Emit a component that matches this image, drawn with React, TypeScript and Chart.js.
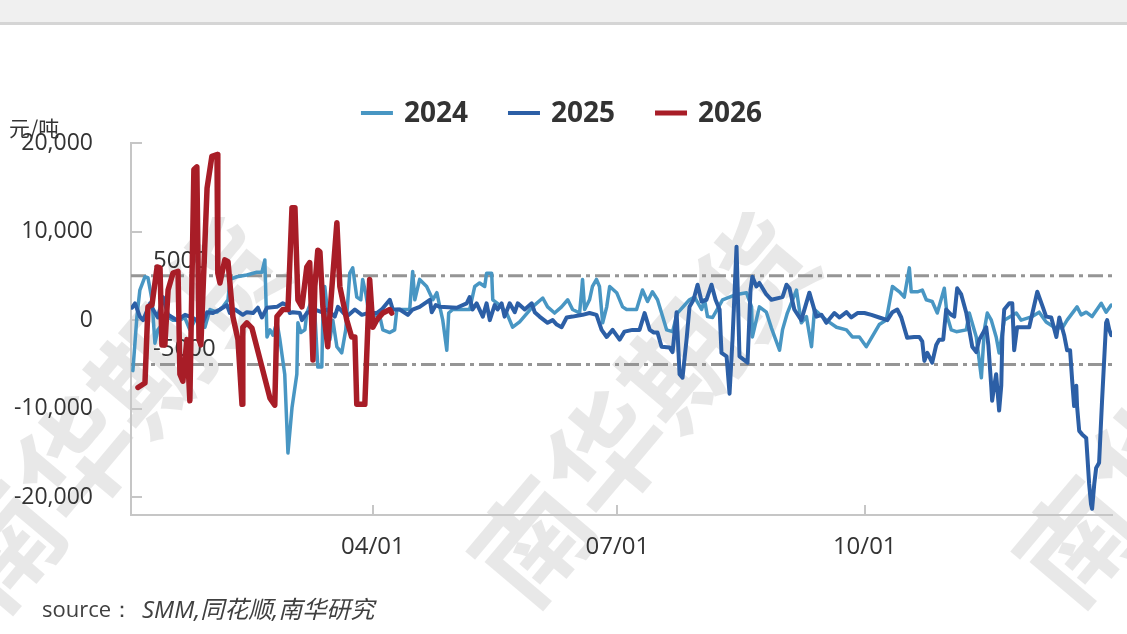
import React, { useEffect, useRef } from "react";
import { Chart, registerables } from "chart.js";

Chart.register(...registerables);

// ---- data (x = day of year, y = 元/吨) ----
const days2024 = [0.7, 2.2, 3.3, 5.2, 6.3, 7.8, 8.9, 10, 11.5, 13.4, 15.6, 18.2, 20, 21.9, 23.8, 25.7, 27.5, 29.4, 32, 34.2, 36.1, 36.8, 39.4, 43.1, 46.8, 48.7, 49.8, 50.6, 51.7, 52.8, 54.3, 55.4, 57.2, 58.4, 59.9, 61.7, 62.1, 63.2, 64.7, 65.4, 67.3, 68.4, 69.5, 71, 71.4, 72.1, 73.2, 74, 75.1, 76.6, 78.4, 79.9, 81.4, 82.5, 84, 85.5, 86.2, 87.4, 88.8, 90.7, 92.6, 93.7, 96.3, 98.1, 98.9, 103.7, 104.8, 105.6, 107.4, 110, 112.3, 113.8, 114.9, 116, 117.5, 118.2, 119.7, 126, 127.9, 129.7, 131.6, 132.3, 134.2, 134.6, 137.2, 139.8, 142, 144.6, 149.4, 153.2, 155, 157.6, 160.2, 162.5, 164.3, 166.9, 167.7, 168, 168.8, 170.6, 171.7, 173.2, 174.3, 175.5, 177, 178.1, 180.7, 182.9, 184.4, 188.1, 190.3, 192.2, 194, 195.9, 197.8, 199.3, 201.5, 203.3, 207.8, 209.7, 212.3, 213.4, 214.5, 216.4, 220.1, 225.3, 229, 230.9, 231.2, 233.8, 236.4, 238.3, 241.3, 242.4, 244.2, 247.6, 249.4, 251.3, 253.2, 254.3, 258.7, 262.5, 266.2, 268.4, 271, 273.6, 278.4, 281, 283.3, 285.9, 287.7, 289.6, 290.3, 292.6, 294.4, 295.9, 298.1, 300, 302.6, 303.7, 305.2, 307.1, 310.8, 311.9, 314.5, 316.4, 317.5, 318.6, 320.1, 321.9, 323, 324.9, 329.4, 331.2, 335.3, 337.9, 340.5, 343.5, 346.5, 348.3, 352, 353.5, 355.4, 357.6, 361, 362.8, 364.7];
const vals2024 = [-5700, 400, 3400, 4900, 4800, 2300, -2600, -1100, -500, 400, 0, 0, 300, -1100, 0, -200, -800, 1200, 900, 1500, 2300, 4600, 4900, 5100, 5400, 5400, 6800, -1900, -1100, -1700, -200, -2200, -6100, -15000, -9900, -6100, -300, -1400, -1100, 800, 2300, 800, -5300, -5300, 800, 3800, 800, -2200, 0, -3000, -3700, -1100, 5300, 5900, 2600, 2300, 4600, 2900, 300, 600, 400, -1100, -1400, -1100, 1200, 1200, 5500, 2300, 4600, 3800, 2300, 3100, 1500, 0, -3400, 800, 1200, 1200, 3800, 4200, 3800, 5300, 5300, 2300, 1700, 800, -800, -200, 1500, 2500, 1500, 800, 1500, 2300, 1200, 800, 3400, 4600, 1200, 2300, 3800, 4600, 3800, -300, 1500, 3800, 3100, 1500, 1200, 1200, 3400, 2100, 3200, 2300, 400, -1100, -1300, 800, 2300, 2600, 1200, 2300, 400, 300, 2300, 2900, 3100, 1500, -1900, 1500, 900, -900, -3400, -1100, 800, 3400, -300, 400, -3000, 1200, 0, -800, -1100, -1900, -1900, -3000, -500, 0, 3800, 3200, 2600, 5900, 3200, 3200, 3400, 2300, 2100, 800, 3600, 400, -1100, -1300, -1100, 800, -1900, -6500, -1100, 800, 0, -1900, -3700, 0, 800, 0, 400, 900, -200, -800, -900, 0, 1500, 600, 900, 400, 1900, 900, 1700];

const days2025 = [0.4, 1.5, 3.3, 4.5, 7.1, 8.2, 10, 11.9, 13.8, 17.1, 20.1, 22.7, 24.5, 26.8, 28.3, 30.5, 33.1, 35.7, 36.8, 38.7, 41.6, 43.1, 45.4, 47.2, 48.7, 50.6, 54.3, 56.5, 58, 59.1, 60.2, 62.8, 63.6, 65.4, 68.4, 71, 72.9, 75.8, 77, 80.3, 83.3, 85.9, 88.1, 91.4, 93.3, 96.3, 97.4, 100, 103, 104.8, 107.4, 111.2, 111.9, 113.4, 114.9, 121.2, 124.9, 126, 127.1, 128.6, 130.9, 132.3, 133.5, 135.3, 136.4, 137.9, 139, 140.9, 142.8, 143.9, 146.5, 149.1, 150.2, 152, 155, 156.9, 158.4, 160.2, 162.1, 164.3, 168, 170.6, 173.2, 175.1, 177, 179.2, 181.8, 183.6, 186.6, 189.2, 191.1, 193, 194.5, 195.9, 197.4, 200.4, 201.5, 203, 204.1, 205.2, 206.7, 207.8, 209.3, 210.8, 212.3, 214.1, 216, 217.5, 219, 219.7, 221.6, 222.7, 223.8, 225.3, 226.4, 229.4, 230.5, 231.2, 232.7, 233.8, 236.4, 238.3, 242.4, 243.9, 245, 246.8, 249.4, 252.4, 255, 256.9, 258.7, 261.7, 263.6, 266.2, 268, 270.3, 272.9, 275.5, 278.4, 281.4, 283.3, 285.1, 286.6, 288.8, 291.4, 293.3, 294.4, 295.2, 296.3, 298.1, 299.6, 300.7, 302.2, 303.3, 305.2, 306.3, 307.4, 308.9, 310.8, 311.9, 313, 314.5, 315.6, 318.2, 319, 320.1, 320.4, 321.2, 321.9, 323, 323.8, 324.2, 324.9, 326.8, 327.9, 328.6, 329.7, 332.3, 334.2, 337.2, 339, 340.5, 342.4, 344.3, 345.4, 347.2, 348.3, 349.4, 350.2, 350.9, 351.7, 352, 352.8, 353.9, 355.4, 356.5, 357.2, 357.6, 358.4, 359.1, 360.2, 361.3, 362.8, 363.2, 364, 364.7];
const vals2025 = [1400, 1900, 400, 0, 1900, 1200, 300, 2600, 600, 0, 600, 300, 0, -200, 900, 800, 1200, 1700, 800, 1200, 600, 900, 800, 1400, 300, 1400, 1500, 1900, 1700, 800, 900, 800, 0, 800, 1200, 900, 1200, 400, 1500, 400, 1200, 600, 800, 800, 1200, 2300, 1200, 1200, 600, 1200, 1500, 2300, 900, 1700, 1500, 1400, 1900, 2600, 1200, 1900, 400, 1900, 0, 1700, 1200, 1900, 400, 1900, 900, 1900, 1200, 1900, 900, 400, -300, 0, -500, -800, 300, 400, 600, 800, 600, -1100, -1900, -1100, -2200, -1300, -1100, -1100, 800, -1100, -1400, -1400, -3000, -3100, -3600, 900, -6100, -6500, -2200, 1500, 2300, 4000, 2100, 2300, 4000, 2300, 1200, -3700, -4100, -8300, -2200, 8300, -4100, -4800, 3400, 4900, 3800, 4200, 2900, 2300, 2600, 4000, 3600, 1200, 0, 3100, 400, 600, -300, 800, 300, 900, 300, 800, 800, 600, 300, 0, 900, 1200, 300, -2000, -1900, -1900, -2400, -4600, -3700, -4800, -2800, -2200, -2200, 1200, 600, 400, 3600, 2900, 800, -1100, -3000, -3600, -2200, -800, -2800, -7600, -9100, -7400, -6100, -10200, -7400, -1900, 1200, 1900, 1900, -3400, -800, -800, -800, 3200, 1700, 400, 300, -1900, 300, -1700, -3400, -3400, -6900, -9700, -7400, -9700, -12500, -12900, -13300, -18500, -20800, -21300, -18500, -16700, -16100, -9100, -300, 0, -1100, -1700];

const days2026 = [2.6, 5.2, 6.3, 7.8, 9.7, 10.8, 11.5, 12.6, 13.8, 15.6, 17.5, 18.2, 19.3, 20.8, 21.9, 23.4, 24.5, 25.3, 26, 28.3, 30.1, 32, 32.3, 33.1, 34.9, 36.1, 37.9, 39.8, 41.3, 41.6, 43.1, 45, 51.7, 53.5, 54.3, 56.5, 58.4, 59.9, 61, 62.1, 63.6, 65.4, 66.5, 67.7, 68.4, 69.5, 70.3, 71.4, 73.2, 74.4, 76.6, 77.7, 80.3, 82.1, 83.3, 84, 87, 88.8, 90, 91.4, 93.7, 96.3, 97];
const vals2026 = [-7600, -7100, 1500, 1700, 6000, 5900, -2800, -2800, 3400, 5300, 5500, -6100, -6900, -2200, -9100, 17000, 17300, -2200, -2800, 14900, 18500, 18700, 5300, 4200, 6800, 6600, 400, -2200, -9500, -800, -300, -900, -8800, -9600, 400, 1200, 1200, 12700, 12700, 2300, 1500, 6000, 6500, -4500, 3800, 7900, 7700, 1500, -3000, 2300, 11000, 3800, 0, -1900, -1900, -9500, -9500, 4600, -800, 0, 800, 1200, 800];

const seriesNames = ["2024", "2025", "2026"];
const seriesColors = ["#4896c3", "#2c5fa6", "#a81d27"];
const seriesWidths = [3.5, 4, 5.5];

const xTickDays = [90, 181, 273];
const xTickLabels = ["04/01", "07/01", "10/01"];
const yTickValues = [-20000, -10000, 0, 10000, 20000];
const refLevels = [5000, -5000];
const refLabels = ["5000", "-5000"];

const unitLabel = "元/吨";
const sourcePrefix = "source：";
const sourceBody = "SMM,同花顺,南华研究";
const watermarkText = "南华期货";

const FONT = "'Open Sans', 'Noto Sans', sans-serif";
const CJK = "'Noto Sans CJK SC', 'Noto Sans', sans-serif";

export default function App() {
  const ref = useRef<HTMLCanvasElement | null>(null);

  useEffect(() => {
    if (!ref.current) return;
    const toPts = (d: number[], v: number[]) => d.map((x, i) => ({ x, y: v[i] }));
    const allDays = [days2024, days2025, days2026];
    const allVals = [vals2024, vals2025, vals2026];

    const decor = {
      id: "decor",
      beforeDraw(chart: any) {
        const { ctx, width, height } = chart;
        ctx.save();
        ctx.fillStyle = "#ffffff";
        ctx.fillRect(0, 0, width, height);
        // header band
        ctx.fillStyle = "#f0f0f0";
        ctx.fillRect(0, 0, width, 22);
        ctx.fillStyle = "#d5d5d5";
        ctx.fillRect(0, 22, width, 3);
        // watermarks
        ctx.fillStyle = "rgba(0,0,0,0.09)";
        ctx.font = `bold 115px ${CJK}`;
        ctx.textBaseline = "middle";
        ctx.textAlign = "left";
        const anchors = [[-35, 590], [495, 585], [1040, 585]];
        for (const [ax, ay] of anchors) {
          ctx.save();
          ctx.translate(ax, ay);
          ctx.rotate(-0.87);
          ctx.fillText(watermarkText, 0, 0);
          ctx.restore();
        }
        ctx.restore();
      },
      beforeDatasetsDraw(chart: any) {
        const { ctx, chartArea, scales } = chart;
        const y = scales.y;
        const x = scales.x;
        ctx.save();
        // inner tick marks
        ctx.strokeStyle = "#c6c6c6";
        ctx.lineWidth = 2;
        for (const v of yTickValues) {
          const py = Math.round(y.getPixelForValue(v));
          ctx.beginPath();
          ctx.moveTo(chartArea.left, py);
          ctx.lineTo(chartArea.left + 11, py);
          ctx.stroke();
        }
        for (const d of xTickDays) {
          const px = Math.round(x.getPixelForValue(d));
          ctx.beginPath();
          ctx.moveTo(px, chartArea.bottom);
          ctx.lineTo(px, chartArea.bottom - 10);
          ctx.stroke();
        }
        // reference labels
        ctx.fillStyle = "#333333";
        ctx.font = `24px ${FONT}`;
        ctx.textAlign = "left";
        ctx.textBaseline = "alphabetic";
        refLevels.forEach((lv, i) => {
          const py = y.getPixelForValue(lv);
          ctx.fillText(refLabels[i], 153, py - 8);
        });
        // reference dash-dot lines
        ctx.strokeStyle = "#959595";
        ctx.lineWidth = 3;
        ctx.setLineDash([15, 5, 4, 5]);
        for (const lv of refLevels) {
          const py = y.getPixelForValue(lv);
          ctx.beginPath();
          ctx.moveTo(chartArea.left, py);
          ctx.lineTo(chartArea.right, py);
          ctx.stroke();
        }
        ctx.restore();
      },
      afterDraw(chart: any) {
        const { ctx } = chart;
        ctx.save();
        // legend
        ctx.font = `bold 28px ${FONT}`;
        ctx.textBaseline = "middle";
        ctx.textAlign = "left";
        const lineW = 32, gap = 11, itemGap = 40;
        const widths = seriesNames.map((n) => lineW + gap + ctx.measureText(n).width);
        const total = widths.reduce((a, b) => a + b, 0) + itemGap * (widths.length - 1);
        let sx = 561.5 - total / 2;
        const ly = 113;
        seriesNames.forEach((n, i) => {
          ctx.strokeStyle = seriesColors[i];
          ctx.lineWidth = i === 2 ? 5 : 4;
          ctx.beginPath();
          ctx.moveTo(sx, ly);
          ctx.lineTo(sx + lineW, ly);
          ctx.stroke();
          ctx.fillStyle = "#333333";
          ctx.fillText(n, sx + lineW + gap, ly + 1);
          sx += widths[i] + itemGap;
        });
        // unit
        ctx.font = `21px ${CJK}`;
        ctx.fillStyle = "#333333";
        ctx.fillText(unitLabel, 9, 128);
        // source
        ctx.font = `22px ${FONT}`;
        ctx.fillStyle = "#404040";
        ctx.fillText(sourcePrefix, 42, 611);
        ctx.font = `italic 24px ${FONT}, ${CJK}`;
        ctx.fillText(sourceBody, 142, 611);
        ctx.restore();
      },
    };

    const chart = new Chart(ref.current, {
      type: "line",
      data: {
        datasets: seriesNames.map((name, i) => ({
          label: name,
          data: toPts(allDays[i], allVals[i]),
          borderColor: seriesColors[i],
          backgroundColor: seriesColors[i],
          borderWidth: seriesWidths[i],
          pointRadius: 0,
          tension: 0,
          borderJoinStyle: "round" as const,
          borderCapStyle: "round" as const,
          fill: false,
          order: 3 - i,
        })),
      },
      options: {
        responsive: false,
        animation: false,
        devicePixelRatio: 1,
        layout: { padding: { top: 143, right: 15, left: 0, bottom: 0 } },
        plugins: { legend: { display: false }, tooltip: { enabled: false } },
        scales: {
          x: {
            type: "linear",
            min: 0,
            max: 365,
            afterBuildTicks: (s: any) => {
              s.ticks = xTickDays.map((v) => ({ value: v }));
            },
            afterFit: (s: any) => {
              s.height = 119;
            },
            ticks: {
              autoSkip: false,
              maxRotation: 0,
              padding: 18,
              color: "#333333",
              font: { family: FONT, size: 24 },
              callback: (v: any) => {
                const k = xTickDays.indexOf(Number(v));
                return k >= 0 ? xTickLabels[k] : "";
              },
            },
            grid: { display: false, drawTicks: false },
            border: { display: true, color: "#c6c6c6", width: 2 },
          },
          y: {
            type: "linear",
            min: -22000,
            max: 20000,
            afterBuildTicks: (s: any) => {
              s.ticks = yTickValues.map((v) => ({ value: v }));
            },
            afterFit: (s: any) => {
              s.width = 131;
            },
            ticks: {
              padding: 38,
              color: "#333333",
              font: { family: FONT, size: 23 },
              callback: (v: any) => Number(v).toLocaleString("en-US"),
            },
            grid: { display: false, drawTicks: false },
            border: { display: true, color: "#c6c6c6", width: 2 },
          },
        },
      },
      plugins: [decor],
    } as any);

    return () => chart.destroy();
  }, []);

  return (
    <div style={{ position: "absolute", left: 0, top: 0, width: 1127, height: 634, background: "#fff" }}>
      <canvas ref={ref} width={1127} height={634} style={{ display: "block", width: 1127, height: 634 }} />
    </div>
  );
}
